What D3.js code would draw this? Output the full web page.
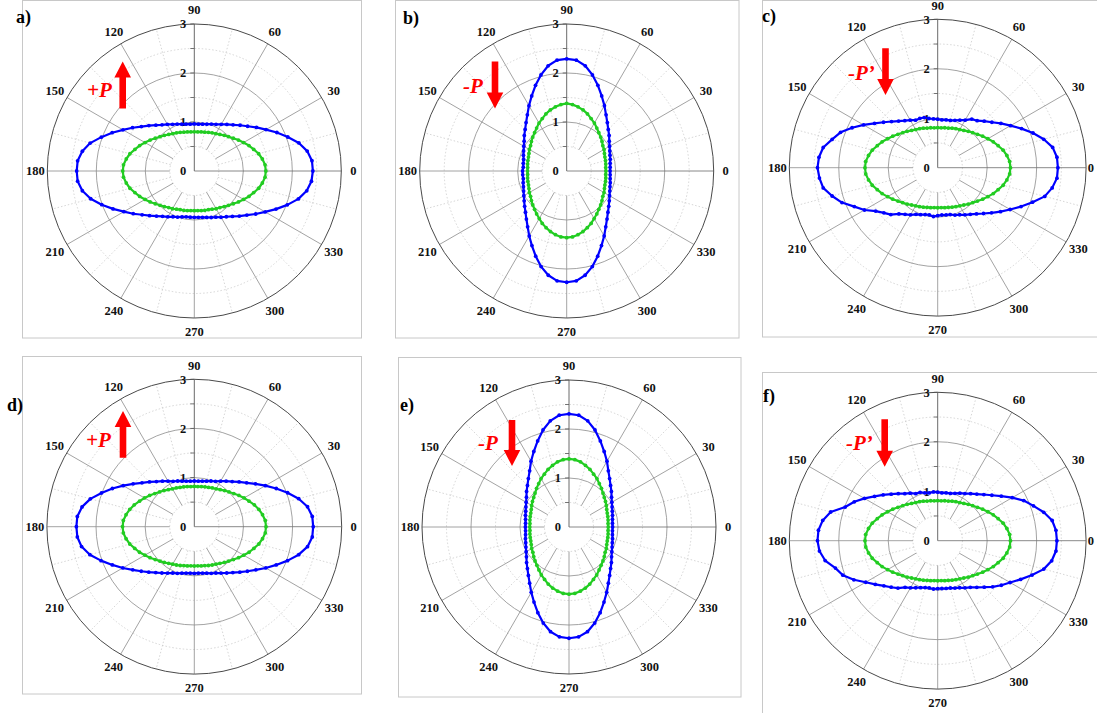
<!DOCTYPE html>
<html>
<head>
<meta charset="utf-8">
<script src="https://cdn.jsdelivr.net/npm/d3@7"></script>
<style>
  body { margin: 0; background: #fff; }
  svg { display: block; }
</style>
</head>
<body>
<svg id="chart" width="1097" height="713"></svg>
<script>
// measurement angles (degrees, counter-clockwise from 0)
const ANGLES = [0,5,10,15,20,25,30,35,40,45,50,55,60,65,70,75,80,85,90,
  95,100,105,110,115,120,125,130,135,140,145,150,155,160,165,170,175,180,
  185,190,195,200,205,210,215,220,225,230,235,240,245,250,255,260,265,270,
  275,280,285,290,295,300,305,310,315,320,325,330,335,340,345,350,355];

// radius values (blue = outer curve, green = inner curve)
const BLUE_A = [2.42,2.41,2.34,2.21,2.03,1.86,1.69,1.55,1.42,1.32,1.23,1.16,1.10,1.05,1.02,0.99,0.97,0.96,0.96,
  0.96,0.97,0.99,1.02,1.05,1.10,1.15,1.22,1.31,1.41,1.54,1.68,1.85,2.02,2.20,2.32,2.39,2.40,
  2.39,2.32,2.19,2.01,1.83,1.66,1.52,1.39,1.29,1.20,1.13,1.08,1.03,1.00,0.97,0.95,0.945,0.945,
  0.95,0.96,0.98,1.01,1.04,1.09,1.14,1.21,1.30,1.40,1.53,1.67,1.84,2.02,2.20,2.33,2.40];
const GREEN_A = [1.46,1.45,1.41,1.36,1.29,1.23,1.16,1.10,1.04,0.99,0.95,0.91,0.88,0.86,0.84,0.82,0.81,0.80,0.80,
  0.80,0.81,0.82,0.84,0.86,0.88,0.91,0.95,0.99,1.04,1.10,1.16,1.23,1.29,1.36,1.41,1.45,1.46,
  1.45,1.41,1.36,1.29,1.23,1.16,1.10,1.04,0.99,0.95,0.91,0.89,0.86,0.84,0.83,0.82,0.81,0.81,
  0.81,0.82,0.83,0.84,0.86,0.89,0.91,0.95,0.99,1.04,1.10,1.16,1.23,1.29,1.36,1.41,1.45];

const BLUE_B = [0.885,0.89,0.90,0.92,0.94,0.97,1.01,1.06,1.13,1.20,1.29,1.40,1.54,1.69,1.86,2.03,2.18,2.27,2.29,
  2.27,2.18,2.03,1.86,1.69,1.54,1.40,1.29,1.20,1.13,1.06,1.01,0.97,0.94,0.91,0.90,0.89,0.90,
  0.90,0.90,0.92,0.94,0.97,1.01,1.06,1.12,1.19,1.28,1.39,1.53,1.68,1.85,2.02,2.16,2.25,2.27,
  2.25,2.16,2.02,1.85,1.68,1.53,1.39,1.28,1.19,1.12,1.06,1.01,0.97,0.94,0.92,0.90,0.89];
const GREEN_B = [0.80,0.80,0.81,0.82,0.83,0.85,0.88,0.90,0.94,0.98,1.02,1.07,1.13,1.18,1.24,1.29,1.33,1.36,1.38,
  1.36,1.33,1.29,1.24,1.18,1.13,1.07,1.02,0.98,0.94,0.90,0.88,0.85,0.83,0.82,0.81,0.80,0.80,
  0.80,0.81,0.82,0.83,0.85,0.88,0.90,0.94,0.98,1.02,1.07,1.12,1.18,1.23,1.28,1.32,1.35,1.36,
  1.35,1.32,1.28,1.23,1.18,1.12,1.07,1.02,0.98,0.94,0.90,0.88,0.85,0.83,0.82,0.81,0.80];

const BLUE_C = [2.43,2.42,2.36,2.22,2.05,1.87,1.70,1.56,1.43,1.33,1.24,1.20,1.11,1.06,1.02,0.99,0.98,0.97,0.98,
  0.99,1.01,1.05,1.06,1.06,1.11,1.16,1.23,1.32,1.43,1.56,1.73,1.91,2.09,2.21,2.35,2.41,2.43,
  2.40,2.35,2.21,2.06,1.86,1.71,1.53,1.42,1.34,1.22,1.15,1.10,1.04,1.01,0.98,0.97,0.99,0.97,
  0.96,0.97,0.98,1.02,1.05,1.10,1.15,1.22,1.31,1.42,1.55,1.69,1.86,2.04,2.24,2.35,2.42];
const GREEN_C = [1.47,1.46,1.42,1.37,1.30,1.24,1.17,1.11,1.05,1.00,0.96,0.92,0.89,0.87,0.85,0.83,0.82,0.81,0.81,
  0.81,0.82,0.83,0.85,0.87,0.89,0.92,0.96,1.00,1.05,1.11,1.17,1.24,1.30,1.37,1.42,1.46,1.47,
  1.46,1.42,1.37,1.30,1.24,1.17,1.11,1.05,1.00,0.96,0.92,0.89,0.87,0.85,0.83,0.82,0.81,0.81,
  0.81,0.82,0.83,0.85,0.87,0.89,0.92,0.96,1.00,1.05,1.11,1.17,1.24,1.30,1.37,1.42,1.46];

const BLUE_D = [2.42,2.41,2.34,2.20,2.02,1.84,1.67,1.52,1.39,1.29,1.20,1.13,1.07,1.02,0.99,0.96,0.94,0.93,0.93,
  0.93,0.94,0.96,0.99,1.02,1.07,1.13,1.20,1.29,1.39,1.52,1.67,1.84,2.01,2.19,2.32,2.39,2.40,
  2.39,2.33,2.20,2.02,1.84,1.68,1.53,1.41,1.31,1.22,1.15,1.09,1.04,1.01,0.98,0.96,0.95,0.95,
  0.95,0.96,0.98,1.01,1.04,1.09,1.15,1.22,1.31,1.41,1.53,1.68,1.84,2.02,2.20,2.34,2.41];
const GREEN_D = [1.46,1.45,1.41,1.36,1.30,1.23,1.17,1.11,1.05,1.00,0.96,0.92,0.89,0.87,0.85,0.84,0.83,0.82,0.82,
  0.82,0.83,0.84,0.85,0.87,0.89,0.92,0.96,1.00,1.05,1.11,1.17,1.23,1.30,1.36,1.41,1.45,1.46,
  1.45,1.41,1.36,1.29,1.23,1.16,1.10,1.04,0.99,0.95,0.91,0.88,0.86,0.84,0.82,0.81,0.80,0.80,
  0.80,0.81,0.82,0.84,0.86,0.88,0.91,0.95,0.99,1.04,1.10,1.16,1.23,1.29,1.36,1.41,1.45];

const BLUE_E = [0.89,0.89,0.90,0.92,0.94,0.97,1.01,1.06,1.13,1.20,1.29,1.40,1.55,1.70,1.87,2.05,2.20,2.29,2.31,
  2.29,2.20,2.05,1.87,1.70,1.55,1.40,1.29,1.20,1.13,1.06,1.01,0.97,0.94,0.92,0.90,0.89,0.89,
  0.89,0.90,0.92,0.94,0.97,1.01,1.06,1.13,1.20,1.29,1.40,1.54,1.69,1.86,2.03,2.17,2.25,2.27,
  2.25,2.17,2.03,1.86,1.69,1.54,1.40,1.29,1.20,1.13,1.06,1.01,0.97,0.94,0.92,0.90,0.89];
const GREEN_E = [0.80,0.80,0.81,0.82,0.83,0.85,0.88,0.91,0.94,0.98,1.03,1.08,1.14,1.19,1.25,1.30,1.35,1.38,1.39,
  1.38,1.35,1.30,1.25,1.19,1.14,1.08,1.03,0.98,0.94,0.91,0.88,0.85,0.83,0.82,0.81,0.80,0.80,
  0.80,0.81,0.82,0.83,0.85,0.88,0.90,0.94,0.98,1.02,1.07,1.13,1.18,1.24,1.29,1.33,1.36,1.37,
  1.36,1.33,1.29,1.24,1.18,1.13,1.07,1.02,0.98,0.94,0.90,0.88,0.85,0.83,0.82,0.81,0.80];

const BLUE_F = [2.41,2.40,2.35,2.22,2.06,1.92,1.74,1.57,1.43,1.32,1.23,1.16,1.10,1.06,1.02,0.99,0.98,0.97,0.98,
  0.99,0.98,1.00,1.04,1.05,1.11,1.16,1.24,1.33,1.44,1.56,1.71,1.86,1.99,2.24,2.36,2.42,2.43,
  2.40,2.31,2.14,2.04,1.87,1.68,1.54,1.42,1.33,1.25,1.15,1.10,1.05,1.01,0.98,0.97,0.98,0.97,
  0.97,0.98,0.99,1.02,1.05,1.10,1.15,1.23,1.33,1.45,1.57,1.69,1.85,2.03,2.22,2.34,2.40];
const GREEN_F = [1.47,1.46,1.42,1.37,1.30,1.24,1.17,1.11,1.05,1.00,0.96,0.92,0.89,0.87,0.85,0.83,0.82,0.81,0.81,
  0.81,0.82,0.83,0.85,0.87,0.89,0.92,0.96,1.00,1.05,1.11,1.17,1.24,1.30,1.37,1.42,1.46,1.47,
  1.46,1.42,1.37,1.30,1.24,1.17,1.11,1.05,1.00,0.96,0.92,0.89,0.87,0.85,0.83,0.82,0.81,0.81,
  0.81,0.82,0.83,0.85,0.87,0.89,0.92,0.96,1.00,1.05,1.11,1.17,1.24,1.30,1.37,1.42,1.46];

// grid and tick definitions
const MAJOR_SPOKES = [0,30,60,90,120,150,180,210,240,270,300,330];
const MINOR_SPOKES = [15,45,75,105,135,165,195,225,255,285,315,345];
const MAJOR_RINGS = [1, 2];
const MINOR_RINGS = [0.5, 1.5, 2.5];
const RADIAL_LABELS = [0, 1, 2, 3];
const RADIAL_TICKS = [0.5, 1, 1.5, 2, 2.5, 3];

// panel layout: frame, polar centre, annotation
const PANELS = [
  { tag: "a)", blue: BLUE_A, green: GREEN_A, cx: 194.3, cy: 171, R: 147,
    frame: [22.5, 0.5, 361.5, 338], tagX: 16, tagY: 23,
    note: "+P", noteX: 87, noteY: 97, arrowX: 122.7, arrowTail: 108.5, arrowTip: 61.5 },
  { tag: "b)", blue: BLUE_B, green: GREEN_B, cx: 566.7, cy: 171, R: 147,
    frame: [395.5, 0.5, 739, 338], tagX: 403, tagY: 24,
    note: "-P", noteX: 463, noteY: 93, arrowX: 495, arrowTail: 61.5, arrowTip: 108.5 },
  { tag: "c)", blue: BLUE_C, green: GREEN_C, cx: 937.7, cy: 167.7, R: 148.4,
    frame: [762.5, 0.5, 1100, 337], tagX: 762, tagY: 22,
    note: "-P\u2019", noteX: 848, noteY: 80, arrowX: 885.5, arrowTail: 48.3, arrowTip: 95 },
  { tag: "d)", blue: BLUE_D, green: GREEN_D, cx: 194.3, cy: 526.7, R: 147.4,
    frame: [22.5, 356.5, 361.5, 694], tagX: 7, tagY: 411,
    note: "+P", noteX: 86, noteY: 447, arrowX: 123, arrowTail: 457.7, arrowTip: 411 },
  { tag: "e)", blue: BLUE_E, green: GREEN_E, cx: 569, cy: 527, R: 147,
    frame: [398.5, 357.5, 741, 697], tagX: 400, tagY: 411,
    note: "-P", noteX: 478, noteY: 450, arrowX: 512, arrowTail: 420, arrowTip: 466 },
  { tag: "f)", blue: BLUE_F, green: GREEN_F, cx: 937.7, cy: 540.7, R: 148.4,
    frame: [762.5, 372.5, 1100, 720], tagX: 763, tagY: 402,
    note: "-P\u2019", noteX: 846, noteY: 450, arrowX: 884.7, arrowTail: 419.3, arrowTip: 466.7 }
];

const BLUE = "#0000ff";
const GREEN = "#22cc22";
const RED = "#ff0000";
const FONT = '"Liberation Serif", "Times New Roman", serif';
const PAGE_W = 1097;

const svg = d3.select("#chart");

// maths degrees (ccw from east) -> d3 radial angle (cw from north)
const toAngle = (deg) => (90 - deg) * Math.PI / 180;

function drawPanel(p) {
  const r = d3.scaleLinear().domain([0, 3]).range([0, p.R]);

  // panel frame
  svg.append("rect")
    .attr("x", p.frame[0]).attr("y", p.frame[1])
    .attr("width", p.frame[2] - p.frame[0])
    .attr("height", p.frame[3] - p.frame[1])
    .attr("fill", "none")
    .attr("stroke", "#c8c8c8")
    .attr("stroke-width", 1);

  const g = svg.append("g").attr("transform", `translate(${p.cx},${p.cy})`);

  // minor rings / spokes (dotted)
  g.selectAll("circle.minor")
    .data(MINOR_RINGS)
    .join("circle")
    .attr("class", "minor")
    .attr("r", (d) => r(d))
    .attr("fill", "none")
    .attr("stroke", "#c4c4c4")
    .attr("stroke-width", 0.7)
    .attr("stroke-dasharray", "1.5 2");

  g.selectAll("line.minorSpoke")
    .data(MINOR_SPOKES)
    .join("line")
    .attr("class", "minorSpoke")
    .each(function (d) {
      const [x1, y1] = d3.pointRadial(toAngle(d), r(0.5));
      const [x2, y2] = d3.pointRadial(toAngle(d), r(3));
      d3.select(this).attr("x1", x1).attr("y1", y1).attr("x2", x2).attr("y2", y2);
    })
    .attr("stroke", "#c4c4c4")
    .attr("stroke-width", 0.7)
    .attr("stroke-dasharray", "1.5 2");

  // major rings / spokes
  g.selectAll("circle.major")
    .data(MAJOR_RINGS)
    .join("circle")
    .attr("class", "major")
    .attr("r", (d) => r(d))
    .attr("fill", "none")
    .attr("stroke", "#8c8c8c")
    .attr("stroke-width", 0.8);

  g.selectAll("line.spoke")
    .data(MAJOR_SPOKES)
    .join("line")
    .attr("class", "spoke")
    .each(function (d) {
      const start = d === 0 || d === 90 ? 0 : 0.5;
      const [x1, y1] = d3.pointRadial(toAngle(d), r(start));
      const [x2, y2] = d3.pointRadial(toAngle(d), r(3));
      d3.select(this).attr("x1", x1).attr("y1", y1).attr("x2", x2).attr("y2", y2);
    })
    .attr("stroke", (d) => (d === 0 || d === 90 ? "#6a6a6a" : "#8c8c8c"))
    .attr("stroke-width", (d) => (d === 90 ? 1 : 0.8));

  // outer ring
  g.append("circle")
    .attr("r", r(3))
    .attr("fill", "none")
    .attr("stroke", "#4a4a4a")
    .attr("stroke-width", 1);

  // radial axis ticks along 90 deg
  g.selectAll("line.rtick")
    .data(RADIAL_TICKS)
    .join("line")
    .attr("class", "rtick")
    .attr("x1", -4).attr("x2", 0)
    .attr("y1", (d) => -r(d)).attr("y2", (d) => -r(d))
    .attr("stroke", "#555")
    .attr("stroke-width", 0.8);

  // angle labels (kept inside the page at the right edge)
  const labelPos = (d) => {
    const [x, y] = d3.pointRadial(toAngle(d), p.R + (d % 180 === 0 ? 12 : 14));
    return [Math.min(x, PAGE_W - 6 - p.cx), y];
  };
  g.selectAll("text.ang")
    .data(MAJOR_SPOKES)
    .join("text")
    .attr("class", "ang")
    .attr("x", (d) => labelPos(d)[0])
    .attr("y", (d) => labelPos(d)[1])
    .attr("dy", "0.35em")
    .attr("text-anchor", "middle")
    .style("font-family", FONT)
    .style("font-weight", "bold")
    .style("font-size", "12.5px")
    .attr("fill", "#111")
    .text((d) => d);

  // radial labels
  g.selectAll("text.rad")
    .data(RADIAL_LABELS)
    .join("text")
    .attr("class", "rad")
    .attr("x", -8)
    .attr("y", (d) => -r(d))
    .attr("dy", "0.35em")
    .attr("text-anchor", "end")
    .style("font-family", FONT)
    .style("font-weight", "bold")
    .style("font-size", "12.5px")
    .attr("fill", "#111")
    .text((d) => d);

  // curves with markers
  const line = d3.lineRadial()
    .angle((d) => toAngle(d[0]))
    .radius((d) => r(d[1]))
    .curve(d3.curveLinearClosed);

  [[p.green, GREEN], [p.blue, BLUE]].forEach(([values, color]) => {
    const pts = d3.zip(ANGLES, values);
    g.append("path")
      .attr("d", line(pts))
      .attr("fill", "none")
      .attr("stroke", color)
      .attr("stroke-width", 2.2)
      .attr("stroke-linejoin", "round");
    g.selectAll(null)
      .data(pts)
      .join("circle")
      .attr("cx", (d) => d3.pointRadial(toAngle(d[0]), r(d[1]))[0])
      .attr("cy", (d) => d3.pointRadial(toAngle(d[0]), r(d[1]))[1])
      .attr("r", 1.9)
      .attr("fill", color);
  });

  // panel tag
  svg.append("text")
    .attr("x", p.tagX).attr("y", p.tagY)
    .style("font-family", FONT)
    .style("font-weight", "bold")
    .style("font-size", "18px")
    .attr("fill", "#000")
    .text(p.tag);

  // polarisation note + arrow
  svg.append("text")
    .attr("x", p.noteX).attr("y", p.noteY)
    .style("font-family", FONT)
    .style("font-weight", "bold")
    .style("font-style", "italic")
    .style("font-size", "21px")
    .attr("fill", RED)
    .text(p.note);

  const dir = p.arrowTip > p.arrowTail ? 1 : -1;
  const headLen = 16, headW = 8.3, shaftW = 3.3;
  const base = p.arrowTip - dir * headLen;
  const ax = p.arrowX;
  const arrow = d3.path();
  arrow.moveTo(ax - shaftW, p.arrowTail);
  arrow.lineTo(ax - shaftW, base);
  arrow.lineTo(ax - headW, base);
  arrow.lineTo(ax, p.arrowTip);
  arrow.lineTo(ax + headW, base);
  arrow.lineTo(ax + shaftW, base);
  arrow.lineTo(ax + shaftW, p.arrowTail);
  arrow.closePath();
  svg.append("path").attr("d", arrow.toString()).attr("fill", RED);
}

PANELS.forEach(drawPanel);
</script>
</body>
</html>
